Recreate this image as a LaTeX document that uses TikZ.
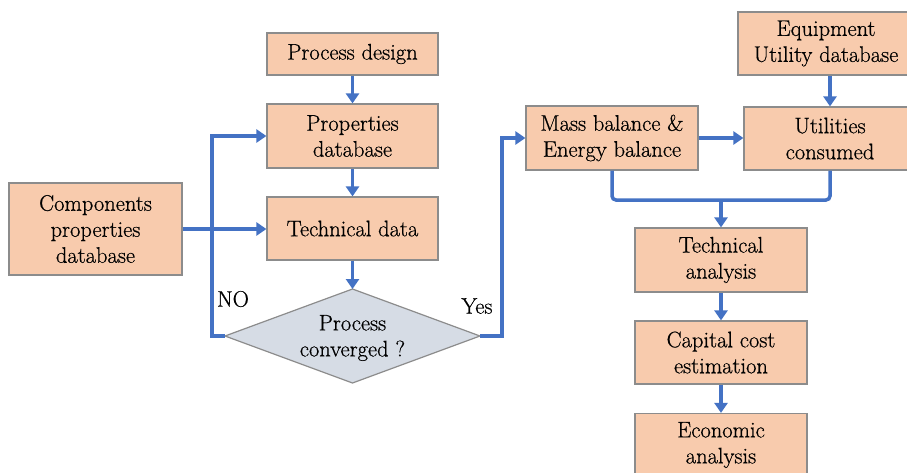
\documentclass[tikz,border=0pt]{standalone}
\usepackage{fontspec}
\newfontfamily\boxfont{Latin Modern Roman}[FakeBold=0.6]
\usetikzlibrary{arrows.meta,calc}
\definecolor{boxfill}{HTML}{F8CBAD}
\definecolor{boxline}{HTML}{8C8C8C}
\definecolor{diafill}{HTML}{D6DCE5}
\definecolor{arrblue}{HTML}{4472C4}
\begin{document}
\begin{tikzpicture}[x=1pt,y=-1pt,
  box/.style={draw=boxline,fill=boxfill,line width=1.2pt,inner sep=0pt,align=center,
    font=\boxfont\fontsize{22.5}{26}\selectfont},
  conn/.style={draw=arrblue,line width=3.5pt},
  arr/.style={conn,-{Triangle[length=10pt,width=13pt]}},
  lbl/.style={font=\boxfont\fontsize{22.5}{26}\selectfont,inner sep=0pt}]
\fill[white] (0,0) rectangle (907,472);
\useasboundingbox (0,0) rectangle (907,472);
% boxes
\node[box,minimum width=171pt,minimum height=42pt] (design) at (352.5,54) {Process design};
\node[box,minimum width=171pt,minimum height=64pt] (prop) at (352.5,136) {Properties\\database};
\node[box,minimum width=171pt,minimum height=63pt] (techd) at (352.5,228.5) {Technical data};
\node[box,minimum width=173pt,minimum height=92pt] (comp) at (95.5,229) {Components\\properties\\database};
\node[box,minimum width=172pt,minimum height=64pt] (mass) at (612,138) {Mass balance \&\\Energy balance};
\node[box,minimum width=176pt,minimum height=63pt] (equip) at (826,43.5) {Equipment\\Utility database};
\node[box,minimum width=172pt,minimum height=63pt] (util) at (830,138.5) {Utilities\\consumed};
\node[box,minimum width=172pt,minimum height=64pt] (techan) at (721,260) {Technical\\analysis};
\node[box,minimum width=172pt,minimum height=63pt] (capital) at (721,352.5) {Capital cost\\estimation};
\node[box,minimum width=172pt,minimum height=63pt] (econ) at (721,445) {Economic\\analysis};
% diamond
\coordinate (dl) at (225,336);
\coordinate (dr) at (480,336);
\coordinate (dt) at (352.5,289);
\coordinate (db) at (352.5,383);
\draw[draw=boxline,fill=diafill,line width=1.2pt] (dl) -- (dt) -- (dr) -- (db) -- cycle;
\node[lbl,align=center] (dia) at (352.5,338) {Process\\converged ?};
% labels
\node[lbl] (no) at (233,299) {NO};
\node[lbl] (yes) at (477,306) {Yes};
% helper coordinates
\coordinate (loopx) at (212,336);
\coordinate (yesx) at (502,336);
\coordinate (j) at (721,200);
% connectors
\draw[arr] (design) -- (prop);
\draw[arr] (prop) -- (techd);
\draw[arr] (techd.south) -- (dt);
\draw[arr] (comp.east) -- (comp.east -| techd.west);
\draw[arr] (dl) -- (loopx) |- (prop.west);
\draw[arr] (dr) -- (yesx) |- (mass.west);
\draw[arr] (mass.east) -- (mass.east -| util.west);
\draw[arr] (util.north |- equip.south) -- (util.north);
\draw[conn,rounded corners=4pt] (mass.south) -- (mass.south |- j) -- (util.south |- j) -- (util.south);
\draw[arr] (j) -- (techan.north);
\draw[arr] (techan) -- (capital);
\draw[arr] (capital) -- (econ);
\end{tikzpicture}
\end{document}
